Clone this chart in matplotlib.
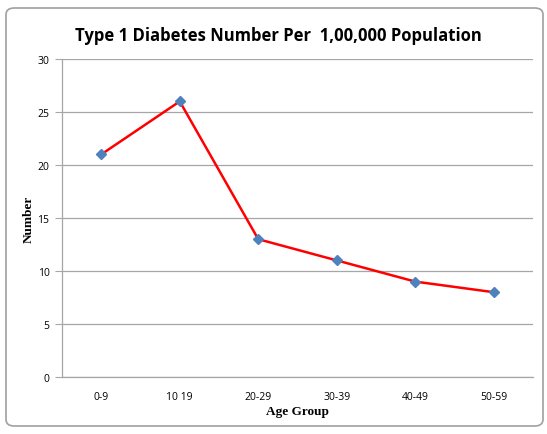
import matplotlib
matplotlib.use('Agg')
import matplotlib.pyplot as plt
from matplotlib.patches import FancyBboxPatch
import numpy as np

age_groups = ['0-9', '10 19', '20-29', '30-39', '40-49', '50-59']
numbers = [21, 26, 13, 11, 9, 8]
y_ticks = [0, 5, 10, 15, 20, 25, 30]

W, H = 547, 435
fig = plt.figure(figsize=(W / 100, H / 100), dpi=100)

# outer chart frame
frame = FancyBboxPatch((6 / W, 8 / H), 537 / W, 418 / H,
                       boxstyle='round,pad=0,rounding_size=0.015',
                       transform=fig.transFigure, facecolor='none',
                       edgecolor='#a0a0a0', linewidth=1.2, zorder=-1)
fig.patches.append(frame)

ax = fig.add_axes([62 / W, 1 - 378 / H, (533 - 62) / W, (378 - 60) / H])
ax.set_facecolor('none')

x = np.arange(len(age_groups))
ax.plot(x, numbers, color='#ff0000', linewidth=1.8, zorder=3)
ax.plot(x, numbers, linestyle='none', marker='D', markersize=5,
        color='#4f81bd', zorder=4)

ax.set_xlim(-0.5, len(age_groups) - 0.5)
ax.set_ylim(0, 30)
ax.set_yticks(y_ticks)
ax.set_xticks(x)
ax.set_xticklabels(age_groups)
ax.yaxis.grid(True, color='#a6a6a6', linewidth=0.9)
ax.set_axisbelow(True)

for s in ['top', 'right']:
    ax.spines[s].set_visible(False)
for s in ['left', 'bottom']:
    ax.spines[s].set_color('#a6a6a6')
    ax.spines[s].set_linewidth(0.9)

ax.tick_params(axis='y', length=5, color='#a6a6a6', labelsize=7.5, pad=4)
ax.tick_params(axis='x', length=0, labelsize=7.5, pad=10)
for lab in ax.get_xticklabels() + ax.get_yticklabels():
    lab.set_fontfamily('Open Sans')

ax.set_xlabel('Age Group', fontfamily='Liberation Serif', fontweight='bold',
              fontsize=9.5, labelpad=2)
ax.set_ylabel('Number', fontfamily='Liberation Serif', fontweight='bold',
              fontsize=9.5, labelpad=2)

fig.text(278 / W, 1 - 36 / H, 'Type 1 Diabetes Number Per  1,00,000 Population',
         ha='center', va='center', fontsize=12, fontweight='bold',
         fontfamily='Open Sans')

fig.savefig('out.png', dpi=100)
